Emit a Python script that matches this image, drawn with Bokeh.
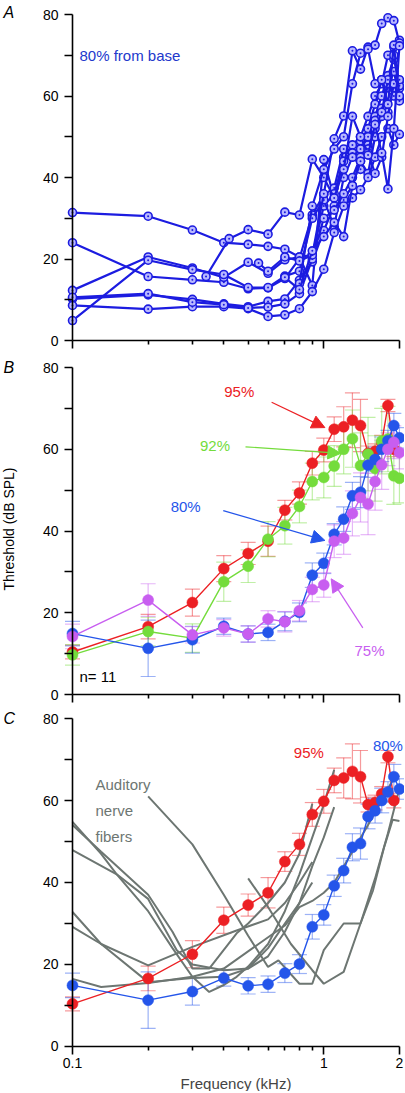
import math
from bokeh.plotting import figure
from bokeh.layouts import column
from bokeh.models import (Range1d, FixedTicker, CustomJSTickFormatter, Label, Arrow,
                          NormalHead, Whisker, TeeHead, ColumnDataSource)
from bokeh.embed import file_html
from bokeh.resources import INLINE

FONT = "Liberation Sans"

# ---------------- data ----------------
freq = [0.1, 0.2, 0.3, 0.4, 0.5, 0.6, 0.7, 0.8, 0.9, 1.0,
        1.1, 1.2, 1.3, 1.4, 1.5, 1.6, 1.7, 1.8, 1.9, 2.0]

# Panel A: individual threshold curves, 80% from base
a1_f = freq
a1_v = [31.4, 30.5, 27.1, 24.0, 23.6, 23.1, 22.4, 20.5, 13.5, 44.4, 35.0, 45.0, 48.0, 50.0, 55.0, 60.0, 63.0, 70.0, 72.0, 73.7]
a2_f = freq
a2_v = [24.0, 15.7, 14.9, 14.3, 12.7, 12.9, 15.2, 20.1, 30.8, 35.8, 37.4, 47.0, 45.0, 49.0, 52.0, 58.0, 64.0, 62.0, 66.0, 59.6]
a3_f = freq
a3_v = [12.3, 20.5, 17.8, 15.5, 19.2, 16.5, 19.8, 20.5, 21.0, 33.0, 36.0, 44.0, 46.0, 42.0, 48.0, 55.0, 60.0, 65.0, 69.0, 63.7]
a4_f = freq
a4_v = [4.9, 19.7, 17.4, 16.2, 13.0, 13.0, 15.8, 17.0, 30.0, 34.5, 28.0, 40.0, 45.0, 47.0, 50.0, 54.0, 57.0, 56.0, 62.0, 58.8]
a5_f = freq
a5_v = [10.2, 11.2, 10.1, 9.0, 8.3, 9.6, 10.2, 14.8, 19.3, 27.0, 33.0, 34.5, 38.0, 44.0, 41.0, 50.0, 55.0, 63.0, 70.0, 61.9]
a6_f = freq
a6_v = [8.6, 7.7, 8.3, 8.3, 7.8, 5.9, 6.3, 7.8, 12.0, 17.5, 26.5, 33.0, 35.0, 37.0, 40.0, 45.0, 50.0, 52.0, 48.0, 50.6]
a7_f = freq
a7_v = [10.6, 11.5, 9.4, 8.8, 8.0, 8.2, 9.0, 11.5, 20.0, 30.0, 32.0, 36.0, 40.0, 45.0, 47.0, 52.0, 56.0, 64.0, 60.0, 62.5]
a8_f = [0.34, 0.42, 0.5, 0.6, 0.7, 0.8, 0.9, 1.0, 1.1, 1.2, 1.3, 1.4, 1.5, 1.6, 1.7, 1.8, 1.9, 2.0]
a8_v = [15.7, 25.0, 27.2, 26.1, 31.5, 30.8, 44.5, 40.0, 35.0, 42.0, 55.0, 50.0, 46.0, 41.0, 45.0, 55.0, 63.0, 64.0]
a9_f = [0.55, 0.6, 0.7, 0.8, 0.9, 1.0, 1.1, 1.2, 1.3, 1.4, 1.5, 1.6, 1.7, 1.8, 1.9, 2.0]
a9_v = [19.0, 17.0, 20.5, 19.5, 21.0, 36.0, 49.5, 55.1, 71.1, 66.6, 72.0, 72.5, 77.8, 79.2, 78.5, 73.0]
a10_f = [0.8, 0.9, 1.0, 1.1, 1.2, 1.3, 1.4, 1.5, 1.6, 1.7, 1.8, 1.9, 2.0]
a10_v = [14.0, 33.0, 42.0, 47.0, 50.0, 63.0, 70.5, 71.5, 63.0, 64.0, 58.0, 72.5, 60.0]
a11_f = [0.7, 0.8, 0.9, 1.0, 1.1, 1.2, 1.3, 1.4, 1.5, 1.6, 1.7, 1.8, 1.9, 2.0]
a11_v = [15.5, 12.5, 22.0, 25.5, 29.0, 25.5, 38.0, 44.0, 45.5, 53.0, 46.0, 37.2, 52.0, 72.3]

# Panel B: mean thresholds (dB SPL) and error bars
red_f = freq[:19]
red_v = [10.4, 16.6, 22.5, 30.8, 34.5, 37.5, 45.1, 49.3, 56.6, 59.8, 64.9, 65.5, 67.1, 65.8, 59.0, 59.5, 61.6, 70.7, 60.0]
red_e = [1.7, 3.0, 3.3, 3.2, 2.7, 3.7, 2.4, 2.7, 2.9, 2.9, 3.0, 4.9, 6.7, 6.4, 1.8, 1.8, 1.8, 1.5, 1.8]
green_f = freq
green_v = [9.7, 15.4, 13.8, 27.6, 31.4, 38.0, 41.3, 46.0, 52.1, 53.1, 55.9, 60.0, 62.6, 56.0, 58.8, 55.3, 62.0, 62.5, 53.5, 52.9]
green_e = [2.5, 3.5, 3.5, 4.8, 4.0, 4.3, 4.5, 4.0, 4.5, 5.0, 5.0, 6.0, 7.0, 8.0, 9.0, 8.0, 8.0, 8.0, 7.0, 6.0]
blue_f = freq
blue_v = [14.9, 11.3, 13.4, 16.7, 14.8, 15.2, 17.9, 20.1, 29.2, 32.1, 39.2, 42.9, 48.6, 49.5, 56.1, 57.5, 60.0, 62.1, 65.8, 62.8]
blue_e = [3.0, 6.9, 3.3, 2.0, 2.0, 2.0, 2.3, 2.3, 3.0, 2.5, 2.6, 3.0, 3.3, 3.8, 3.0, 3.0, 3.0, 2.5, 3.0, 2.5]
purple_f = freq
purple_v = [14.2, 23.1, 14.6, 16.3, 14.8, 18.5, 17.8, 20.5, 25.7, 26.8, 37.5, 38.3, 44.3, 48.2, 46.6, 52.1, 56.2, 60.0, 61.7, 59.2]
purple_e = [3.0, 4.0, 2.0, 2.0, 2.0, 2.0, 2.5, 2.5, 3.0, 3.0, 4.0, 4.0, 5.5, 6.0, 7.5, 7.0, 6.0, 4.0, 4.0, 4.0]

# Panel C: auditory nerve fibre tuning curves
g1_f = [0.1, 0.13, 0.15, 0.2, 0.25, 0.3, 0.35, 0.4, 0.45, 0.5, 0.6, 0.7, 0.8, 0.9, 1.0, 1.1]
g1_v = [54.8, 47.0, 42.0, 33.0, 24.0, 17.0, 13.3, 15.0, 17.0, 19.5, 25.0, 33.0, 42.0, 51.0, 59.0, 67.5]
g2_f = [0.1, 0.13, 0.15, 0.2, 0.25, 0.3, 0.35, 0.45, 0.5, 0.6, 0.7, 0.8, 0.9]
g2_v = [54.0, 47.5, 44.0, 37.0, 28.0, 19.0, 19.0, 27.6, 30.0, 35.0, 40.0, 47.0, 59.2]
g3_f = [0.1, 0.15, 0.2, 0.26, 0.3, 0.4, 0.5, 0.6, 0.7, 0.8, 0.9, 1.0, 1.1]
g3_v = [47.9, 42.0, 36.0, 23.5, 20.0, 18.6, 19.0, 22.0, 28.0, 35.0, 44.0, 51.0, 58.4]
g4_f = [0.1, 0.13, 0.2, 0.3, 0.45, 0.6, 0.7, 0.8, 0.9]
g4_v = [32.8, 25.0, 19.8, 24.3, 28.3, 31.0, 35.0, 40.0, 45.0]
g5_f = [0.1, 0.13, 0.2, 0.3, 0.4, 0.5, 0.6, 0.7, 0.8, 0.9]
g5_v = [29.2, 25.0, 15.7, 16.7, 17.0, 19.0, 24.0, 30.0, 35.0, 40.0]
g6_f = [0.1, 0.13, 0.2, 0.3, 0.4, 0.55, 0.7, 0.8, 0.9, 1.0, 1.1, 1.3, 1.5, 1.7, 1.9, 2.0]
g6_v = [16.5, 14.5, 15.5, 17.0, 19.0, 25.0, 29.5, 34.0, 35.5, 37.5, 40.0, 47.5, 54.0, 60.0, 65.5, 66.0]
g7_f = [0.2, 0.3, 0.4, 0.5, 0.6, 0.66, 0.8, 0.9, 1.0, 1.2, 1.4, 1.6, 1.8, 2.0]
g7_v = [61.0, 49.3, 37.0, 27.0, 19.4, 21.0, 15.3, 15.3, 23.5, 30.0, 30.0, 41.0, 52.0, 63.0]
g8_f = [0.5, 0.6, 0.74, 0.9, 1.0, 1.2, 1.4, 1.57, 1.74, 1.88, 2.0]
g8_v = [41.0, 34.0, 25.0, 18.6, 15.3, 18.2, 30.0, 38.1, 48.7, 55.3, 55.0]

y_ticks = [0, 20, 40, 60, 80]
y_minor = [10, 30, 50, 70]
x_ticks = [0.1, 1, 2]
x_minor = [0.2, 0.3, 0.4, 0.5, 0.6, 0.7, 0.8, 0.9]

# ---------------- styling ----------------
BLUE_A = "#1c1ce0"
RED = "#ec2024"
GREEN = "#74dc3c"
BLUE = "#2455ea"
PURPLE = "#c85ef0"
GRAY = "#6d7672"

W = 404
X_RANGE = (0.0517, 2.095)   # puts 0.1 kHz at x=72 px and 2 kHz at x=399 px


def make_fig(height, y_lo, y_hi, bottom_labels=False):
    p = figure(width=W, height=height, x_axis_type="log",
               x_range=Range1d(*X_RANGE), y_range=Range1d(y_lo, y_hi),
               output_backend="svg", toolbar_location=None,
               min_border_left=0, min_border_right=0,
               min_border_top=0, min_border_bottom=0)
    p.outline_line_color = None
    p.grid.visible = False
    p.background_fill_color = "white"
    p.border_fill_color = "white"
    for ax in (p.xaxis[0], p.yaxis[0]):
        ax.axis_line_width = 1.6
        ax.major_tick_line_width = 1.6
        ax.minor_tick_line_width = 1.6
        ax.major_tick_out = 8
        ax.minor_tick_out = 8
        ax.major_tick_in = 0
        ax.minor_tick_in = 0
        ax.major_label_text_font = FONT
        ax.major_label_text_font_size = "14px"
        ax.major_label_text_color = "black"
    p.yaxis.ticker = FixedTicker(ticks=y_ticks, minor_ticks=y_minor)
    p.yaxis.bounds = (0, 80)
    p.yaxis.fixed_location = 0.1
    p.yaxis.major_label_standoff = 6
    p.xaxis.ticker = FixedTicker(ticks=x_ticks, minor_ticks=x_minor)
    p.xaxis.bounds = (0.1, 2)
    p.xaxis.fixed_location = 0
    p.xaxis.minor_tick_out = 4
    if bottom_labels:
        p.xaxis.formatter = CustomJSTickFormatter(code="return String(tick);")
        p.xaxis.major_label_standoff = 4
        p.xaxis.axis_label = "Frequency (kHz)"
        p.xaxis.axis_label_text_font = FONT
        p.xaxis.axis_label_text_font_size = "15px"
        p.xaxis.axis_label_text_font_style = "normal"
        p.xaxis.axis_label_standoff = 3
    else:
        p.xaxis.formatter = CustomJSTickFormatter(code="return '';")
        p.xaxis.major_label_text_font_size = "0px"
        p.xaxis.major_label_standoff = 0
    return p


def letter(p, txt, y_off=0):
    p.add_layout(Label(x=0.1, y=80, x_offset=-69, y_offset=y_off, text=txt,
                       text_font=FONT, text_font_size="16px", text_font_style="italic",
                       text_align="left", text_baseline="middle", text_color="black"))


def txt(p, x, y, s, color, align="center", x_offset=0):
    p.add_layout(Label(x=x, y=y, x_offset=x_offset, text=s, text_font=FONT,
                       text_font_size="15px", text_color=color,
                       text_align=align, text_baseline="middle"))


def series(p, f, v, e, color):
    src = ColumnDataSource(dict(x=f, lo=[a - b for a, b in zip(v, e)],
                                hi=[a + b for a, b in zip(v, e)]))
    p.add_layout(Whisker(source=src, base="x", lower="lo", upper="hi",
                         dimension="height", line_color=color, line_alpha=0.45,
                         line_width=1.2,
                         upper_head=TeeHead(size=15, line_color=color, line_alpha=0.45, line_width=1.2),
                         lower_head=TeeHead(size=15, line_color=color, line_alpha=0.45, line_width=1.2)))
    p.line(f, v, line_color=color, line_width=1.4)
    p.scatter(f, v, size=11, fill_color=color, line_color=color, line_width=0.5)


# ---------------- Panel A ----------------
pa = make_fig(350, -2.454, 83.44)
for f, v in [(a1_f, a1_v), (a2_f, a2_v), (a3_f, a3_v), (a4_f, a4_v), (a5_f, a5_v),
             (a6_f, a6_v), (a7_f, a7_v), (a8_f, a8_v), (a9_f, a9_v), (a10_f, a10_v),
             (a11_f, a11_v)]:
    pa.line(f, v, line_color=BLUE_A, line_width=2.2)
    pa.scatter(f, v, marker="circle_dot", size=8, fill_color="#b8b8ff",
               line_color=BLUE_A, line_width=1.6)
letter(pa, "A", 2)
txt(pa, 0.1, 70, "80% from base", "#2238cc", align="left", x_offset=7)

# ---------------- Panel B ----------------
pb = make_fig(356, -2.934, 84.16)
series(pb, red_f, red_v, red_e, RED)
series(pb, green_f, green_v, green_e, GREEN)
series(pb, blue_f, blue_v, blue_e, BLUE)
series(pb, purple_f, purple_v, purple_e, PURPLE)
letter(pb, "B")
pb.add_layout(Label(x=0.1, y=40.5, x_offset=-63.5, text="Threshold (dB SPL)", angle=math.pi / 2,
                    text_font=FONT, text_font_size="14px", text_color="black",
                    text_align="center", text_baseline="middle"))
txt(pb, 0.461, 74.1, "95%", RED)
txt(pb, 0.369, 60.9, "92%", GREEN)
txt(pb, 0.282, 46.0, "80%", BLUE)
txt(pb, 1.52, 10.8, "75%", PURPLE)
txt(pb, 0.1, 4.4, "n= 11", "black", align="left", x_offset=7)
for (x0, y0, x1, y1, c) in [(0.62, 71.5, 1.01, 65.3, RED), (0.488, 60.6, 1.17, 59.0, GREEN),
                            (0.398, 45.0, 1.01, 37.7, BLUE), (1.43, 16.3, 1.07, 28.3, PURPLE)]:
    pb.add_layout(Arrow(x_start=x0, y_start=y0, x_end=x1, y_end=y1, line_color=c, line_width=1.2,
                        end=NormalHead(size=13, fill_color=c, line_color=c, line_width=1)))

# ---------------- Panel C ----------------
pc = make_fig(385, -10.98, 82.93, bottom_labels=True)
for f, v in [(g1_f, g1_v), (g2_f, g2_v), (g3_f, g3_v), (g4_f, g4_v),
             (g5_f, g5_v), (g6_f, g6_v), (g7_f, g7_v), (g8_f, g8_v)]:
    pc.line(f, v, line_color=GRAY, line_width=2)
series(pc, red_f, red_v, red_e, RED)
series(pc, blue_f, blue_v, blue_e, BLUE)
letter(pc, "C")
txt(pc, 0.872, 71.6, "95%", RED)
txt(pc, 1.8, 73.3, "80%", BLUE)
txt(pc, 0.1, 63.8, "Auditory", GRAY, align="left", x_offset=23)
txt(pc, 0.1, 57.5, "nerve", GRAY, align="left", x_offset=23)
txt(pc, 0.1, 51.1, "fibers", GRAY, align="left", x_offset=23)

layout = column(pa, pb, pc, spacing=0)
open("out.html", "w").write(file_html(layout, INLINE))
